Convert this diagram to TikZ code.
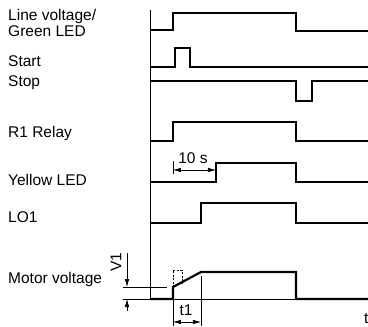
\documentclass[tikz,border=0pt]{standalone}
\usepackage{fontspec}
\setmainfont{Liberation Sans}
\usetikzlibrary{arrows.meta}
\tikzset{
	signal/.style = {line width=2.2pt, line join=miter},
	thin/.style = {line width=0.6pt},
	dim/.style = {line width=0.6pt, {Latex[length=8pt,width=4.5pt]}-{Latex[length=8pt,width=4.5pt]}},
	label/.style = {anchor=base west, inner sep=0pt, font=\fontsize{15.5}{12.5}\selectfont, align=left}
}
\begin{document}
\begin{tikzpicture}[x=1pt, y=-1pt]
	\useasboundingbox (0,0) rectangle (368,327);
	%labels
	\node[label] (lv) at (8,36) {Line voltage/\\Green LED};
	\node[label] (st) at (8,66) {Start};
	\node[label] (sp) at (8,86) {Stop};
	\node[label] (r1) at (8,137) {R1 Relay};
	\node[label] (yl) at (8,185) {Yellow LED};
	\node[label] (lo) at (8,222) {LO1};
	\node[label] (mv) at (8,283) {Motor voltage};
	%axis
	\draw[line width=0.8pt] (150,10) -- (150,299);
	%signals
	\draw[signal] (150,30) -- (173,30) -- (173,13) -- (296,13) -- (296,31) -- (368,31);
	\draw[signal] (150,67) -- (175,67) -- (175,48) -- (190,48) -- (190,67) -- (368,67);
	\draw[signal] (150,81) -- (296,81) -- (296,101) -- (312,101) -- (312,81) -- (368,81);
	\draw[signal] (150,141) -- (173,141) -- (173,122) -- (296,122) -- (296,141) -- (368,141);
	\draw[signal] (150,182) -- (216,182) -- (216,163) -- (296,163) -- (296,182) -- (368,182);
	\draw[signal] (150,223) -- (201,223) -- (201,203) -- (296,203) -- (296,223) -- (368,223);
	%motor voltage
	\draw[thin] (123,299) -- (368,299);
	\draw[thin] (123,287) -- (167,287);
	\draw[signal] (150,299) -- (173,299) -- (173,287) -- (201,272) -- (296,272) -- (296,299) -- (368,299);
	\draw[thin, dash pattern=on 2pt off 1.5pt] (173,287) -- (173,270) -- (182,270) -- (182,284);
	%10 s
	\draw[thin] (173,161) -- (173,174);
	\draw[dim] (173,170) -- (216,170);
	\node[label, anchor=base] (ts) at (193,163) {10 s};
	%V1
	\draw[thin, -{Latex[length=8pt,width=4.5pt]}] (127,253) -- (127,287);
	\draw[thin, -{Latex[length=8pt,width=4.5pt]}] (127,311) -- (127,299);
	\node[label, anchor=center, rotate=90] (v1) at (116,262) {V1};
	%t1
	\draw[thin] (173,287) -- (173,326);
	\draw[thin] (201,276) -- (201,326);
	\draw[dim] (173,322) -- (201,322);
	\node[label, anchor=base] (t1) at (186,315) {t1};
	%time
	\node[label] (tt) at (364,323) {t};
\end{tikzpicture}
\end{document}
